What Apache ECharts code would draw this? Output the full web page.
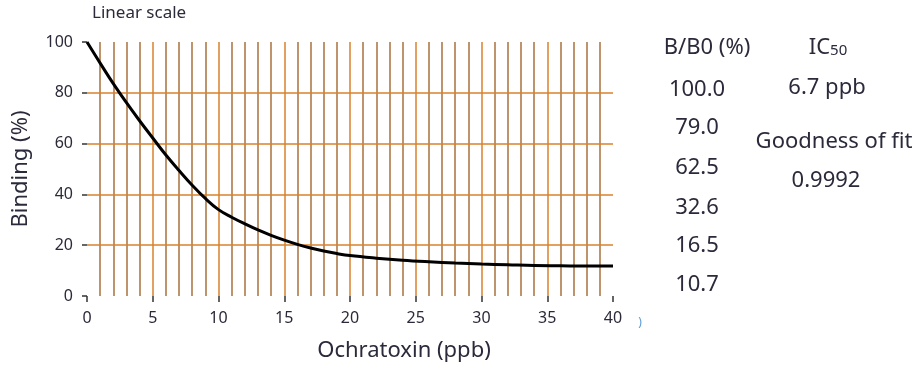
<!DOCTYPE html>
<html>
<head>
<meta charset="utf-8">
<script src="https://cdn.jsdelivr.net/npm/echarts@6/dist/echarts.min.js"></script>
<style>html,body{margin:0;padding:0;background:#fff;}#c{width:922px;height:371px;}</style>
</head>
<body>
<div id="c"></div>
<script>
var concentration = [0,1,2,3,4,5,6,7,8,9,10,11,12,13,14,15,16,17,18,19,20,22,24,26,28,30,32,34,36,38,40];
var binding = [100,91.7,83.6,76.1,69.0,62.2,55.5,49.4,43.6,38.4,34.0,31.0,28.4,26.0,23.9,22.0,20.3,18.9,17.7,16.7,15.9,14.9,14.1,13.5,13.0,12.6,12.3,12.0,11.9,11.8,11.8];
var xTicks = [0,5,10,15,20,25,30,35,40];
var yTicks = [0,20,40,60,80,100];
var majorGridX = [5,10,15,20,25,30,35];
var minorGridX = [1,2,3,4,6,7,8,9,11,12,13,14,16,17,18,19,21,22,23,24,26,27,28,29,31,32,33,34,36,37,38,39];
var gridY = [20,40,60,80];
var standards = ['100.0','79.0','62.5','32.6','16.5','10.7'];
var ic50 = '6.7 ppb';
var fit = '0.9992';

var FONT = 'Noto Sans';
var TXT = '#2a2a3a';
var chart = echarts.init(document.getElementById('c'), null, {renderer:'canvas'});

var markData = [];
minorGridX.forEach(function(v){ markData.push({xAxis:v, lineStyle:{color:'#a8713d', width:1.5, type:'solid'}}); });
majorGridX.forEach(function(v){ markData.push({xAxis:v, lineStyle:{color:'#d9822b', width:1.5, type:'solid'}}); });
gridY.forEach(function(v){ markData.push({yAxis:v, lineStyle:{color:'#d9822b', width:1.5, type:'solid'}}); });

function t(x, y, s, size, extra){
  var o = {type:'text', x:x, y:y, style:{text:s, font:size+'px "'+FONT+'"', fill:TXT, textAlign:'center', textVerticalAlign:'middle'}};
  if (extra) for (var k in extra) o[k] = extra[k];
  return o;
}
var graphics = [
  {type:'text', left:92, top:5, style:{text:'Linear scale', font:'17px "'+FONT+'"', fill:TXT}},
  t(404, 351, 'Ochratoxin (ppb)', 22),
  t(21, 169, 'Binding (%)', 22, {rotation:Math.PI/2}),
  t(707, 48, 'B/B0 (%)', 22),
  {type:'text', x:828, y:48, style:{text:'{a|IC}{b|50}', rich:{a:{fontSize:22, fontFamily:FONT, fill:TXT}, b:{fontSize:15, fontFamily:FONT, fill:TXT, padding:[5,0,0,0]}}, textAlign:'center', textVerticalAlign:'middle'}},
  t(827, 88, ic50, 22),
  t(834, 142, 'Goodness of fit', 22),
  t(826, 181, fit, 22),
  {type:'text', x:640, y:323, style:{text:')', font:'12px "'+FONT+'"', fill:'#5b9bd5', textAlign:'center', textVerticalAlign:'middle'}}
];
var stdY = [90,128,168,208,246,285];
standards.forEach(function(s,i){ graphics.push(t(697, stdY[i], s, 22)); });

chart.setOption({
  animation:false,
  backgroundColor:'#fff',
  grid:{left:87, right:309, top:42, bottom:75, containLabel:false},
  xAxis:{type:'value', min:0, max:40, interval:5, offset:4,
    axisLine:{show:false}, axisTick:{show:true, length:6, lineStyle:{color:'#333', width:1.5}},
    axisLabel:{fontSize:16, fontFamily:FONT, color:TXT, margin:10, formatter:function(v){return xTicks.indexOf(v)>=0? String(v):'';}},
    splitLine:{show:false}},
  yAxis:{type:'value', min:0, max:100, interval:20, offset:5,
    axisLine:{show:false}, axisTick:{show:true, length:5, lineStyle:{color:'#333', width:1.5}},
    axisLabel:{fontSize:16, fontFamily:FONT, color:TXT, margin:9, formatter:function(v){return yTicks.indexOf(v)>=0? String(v):'';}},
    splitLine:{show:false}},
  graphic:graphics,
  series:[{
    type:'line', smooth:0.4, symbol:'none',
    data: concentration.map(function(x,i){return [x, binding[i]];}),
    lineStyle:{color:'#000', width:3},
    z:5,
    markLine:{silent:true, symbol:['none','none'], label:{show:false}, animation:false, data:markData, z:1}
  }]
});
</script>
</body>
</html>
